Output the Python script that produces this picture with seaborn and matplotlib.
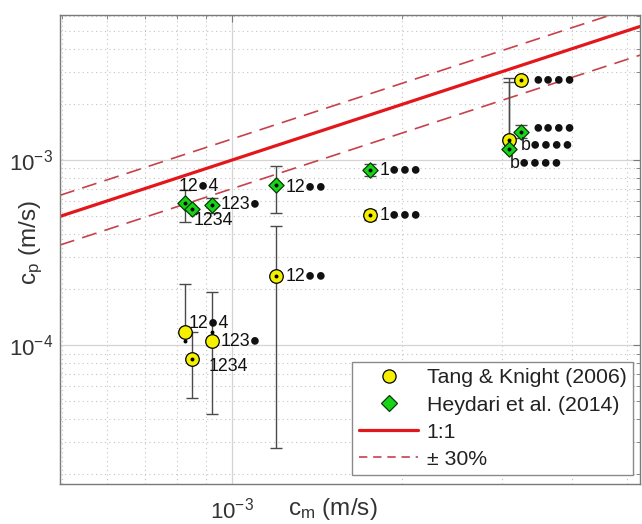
import numpy as np
import pandas as pd
import seaborn as sns
import matplotlib.pyplot as plt
from matplotlib.lines import Line2D

# Tang & Knight (2006) - c_m, c_p, error bar low / high, dot position, label
tang_cm = [8.26e-4, 8.50e-4, 9.22e-4, 1.196e-3, 1.755e-3, 3.25e-3, 3.09e-3]
tang_cp = [1.175e-4, 8.40e-5, 1.05e-4, 2.36e-4, 5.04e-4, 2.70e-3, 1.28e-3]
tang_lo = [1.175e-4, 5.17e-5, 4.24e-5, 2.77e-5, 4.74e-4, 2.70e-3, 1.28e-3]
tang_hi = [2.14e-4, 1.175e-4, 1.93e-4, 4.39e-4, 5.37e-4, 2.70e-3, 2.77e-3]
tang_dot = [1.05e-4, 8.40e-5, 1.175e-4, 2.36e-4, 5.04e-4, 2.70e-3, 1.28e-3]
tang_lab = ["12●4", "1234", "123●", "12●●", "1●●●", "●●●●", "b●●●●"]

# Heydari et al. (2014)
hey_cm = [8.26e-4, 8.50e-4, 9.22e-4, 1.196e-3, 1.755e-3, 3.25e-3, 3.09e-3]
hey_cp = [5.86e-4, 5.43e-4, 5.71e-4, 7.32e-4, 8.83e-4, 1.415e-3, 1.147e-3]
hey_lo = [4.62e-4, 5.43e-4, 5.20e-4, 5.17e-4, 8.20e-4, 1.314e-3, 1.147e-3]
hey_hi = [6.88e-4, 5.43e-4, 6.23e-4, 9.28e-4, 9.50e-4, 1.546e-3, 2.64e-3]
hey_lab = ["12●4", "1234", "123●", "12●●", "1●●●", "●●●●", "b●●●●"]

# label offsets in pixels (dx, dy up)
tang_off = [(3, 9), (16, -7), (8, 0), (10, 0), (9, 0), (11, 0), (12, -5)]
hey_off = [(-7, 16), (1, -11), (8, 1), (10, -2), (9, 0), (11, 4), (1, -14)]

xlim = (4.96e-4, 5.27e-3)
ylim = (1.774e-5, 6.08e-3)

sns.set_style("white")
plt.rcParams['font.family'] = ['Liberation Sans', 'DejaVu Sans']
plt.rcParams['mathtext.fontset'] = 'custom'
plt.rcParams['mathtext.rm'] = 'Liberation Sans'
plt.rcParams['mathtext.it'] = 'Liberation Sans:italic'
plt.rcParams['mathtext.bf'] = 'Liberation Sans:bold'
plt.rcParams['mathtext.sf'] = 'Liberation Sans'

fig = plt.figure(figsize=(6.42, 5.24), dpi=100)
ax = fig.add_axes([60 / 642, 40 / 524, 580 / 642, 469 / 524])
ax.set_xscale('log')
ax.set_yscale('log')
ax.set_xlim(xlim)
ax.set_ylim(ylim)

# grid
ax.grid(True, which='major', color='#d4d4d4', lw=0.9, ls='-')
ax.grid(True, which='minor', color='#c4c4c4', lw=0.8, ls=(0, (1, 3)))
ax.set_axisbelow(True)

# 1:1 and +-30 % lines
line_x = np.array(xlim)
sns.lineplot(x=line_x, y=line_x, color='#e3171b', lw=2.3, ax=ax, zorder=2)
sns.lineplot(x=line_x, y=line_x * 1.3, color='#c8414a', lw=1.2, ax=ax,
             zorder=2, dashes=False).lines[-1].set_dashes((9, 5))
sns.lineplot(x=line_x, y=line_x * 0.7, color='#c8414a', lw=1.2, ax=ax,
             zorder=2, dashes=False).lines[-1].set_dashes((9, 5))

# error bars
for cm, cp, lo, hi in [(tang_cm, tang_cp, tang_lo, tang_hi),
                       (hey_cm, hey_cp, hey_lo, hey_hi)]:
    cp = np.array(cp)
    ax.errorbar(cm, cp, yerr=[cp - np.array(lo), np.array(hi) - cp], fmt='none',
                ecolor='#4a4a4a', elinewidth=1.0, capsize=4.5, capthick=1.0, zorder=3)

tang = pd.DataFrame({'cm': tang_cm, 'cp': tang_cp})
hey = pd.DataFrame({'cm': hey_cm, 'cp': hey_cp})
sns.scatterplot(data=tang, x='cm', y='cp', marker='o', s=95, color='#f4f000',
                edgecolor='black', linewidth=0.9, ax=ax, zorder=4, legend=False)
sns.scatterplot(data=hey, x='cm', y='cp', marker='D', s=60, color='#17d417',
                edgecolor='#0a3a0a', linewidth=0.9, ax=ax, zorder=4, legend=False)
sns.scatterplot(x=tang_cm, y=tang_dot, marker='o', s=8, color='black',
                linewidth=0, ax=ax, zorder=5, legend=False)
sns.scatterplot(x=hey_cm, y=hey_cp, marker='o', s=8, color='black',
                linewidth=0, ax=ax, zorder=5, legend=False)

# point labels
for cm, cp, labs, offs in [(tang_cm, tang_cp, tang_lab, tang_off),
                           (hey_cm, hey_cp, hey_lab, hey_off)]:
    for x, y, s, (dx, dy) in zip(cm, cp, labs, offs):
        ax.annotate(s, (x, y), xytext=(dx * 0.72, dy * 0.72), textcoords='offset points',
                    ha='left', va='center', fontsize=12.8, color='#111111', zorder=6)

# axes styling
for sp in ax.spines.values():
    sp.set_color('#7a7a7a')
    sp.set_linewidth(1.0)
ax.tick_params(which='both', direction='in', top=True, right=True, colors='#7a7a7a',
               labelcolor='#333333', labelsize=16)
ax.tick_params(which='major', length=5)
ax.tick_params(which='minor', length=3)
ax.tick_params(axis='x', which='major', pad=10)
ax.tick_params(axis='y', which='major', pad=5)

ax.set_xlabel(r'c$_{\mathregular{m}}$ (m/s)', fontsize=17.5, color='#333333')
ax.set_ylabel(r'c$_{\mathregular{p}}$ (m/s)', fontsize=17.5, color='#333333')
ax.xaxis.set_label_coords(0.471, -0.026)
ax.yaxis.set_label_coords(-0.026, 0.514)

handles = [
    Line2D([], [], ls='none', marker='o', ms=9.5, mfc='#f4f000', mec='black', mew=0.9),
    Line2D([], [], ls='none', marker='D', ms=8, mfc='#17d417', mec='#0a3a0a', mew=0.9),
    Line2D([], [], color='#e3171b', lw=2.3),
    Line2D([], [], color='#c8414a', lw=1.2, dashes=(5, 3.5)),
]
labels = ['Tang & Knight (2006)', 'Heydari et al. (2014)', '1:1', '± 30%']
leg = ax.legend(handles, labels, loc='lower right', bbox_to_anchor=(0.988, 0.019),
                borderaxespad=0, fontsize=15.3, fancybox=False, framealpha=1,
                edgecolor='#8a8a8a', handlelength=2.8, labelspacing=0.38,
                handletextpad=0.4, borderpad=0.3)
leg.get_frame().set_linewidth(1.0)
for t in leg.get_texts():
    t.set_color('#222222')

fig.savefig('out.png', dpi=100)
